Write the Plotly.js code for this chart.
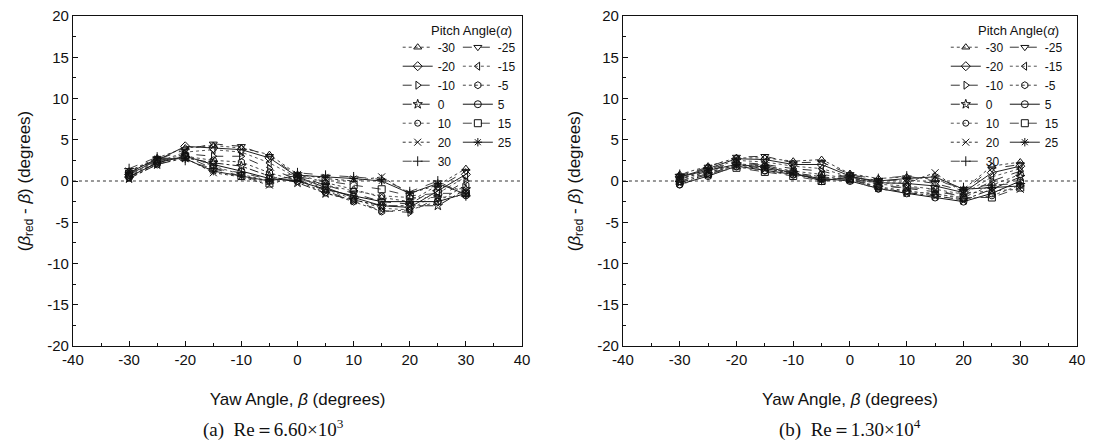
<!DOCTYPE html>
<html>
<head>
<meta charset="utf-8">
<script src="https://cdn.plot.ly/plotly-3.0.1.min.js"></script>
<style>html,body{margin:0;padding:0;background:#fff;}#chart{width:1114px;height:442px;}</style>
</head>
<body>
<div id="chart"></div>
<script>
// Yaw angle beta (degrees)
const yawAngles = [-30, -25, -20, -15, -10, -5, 0, 5, 10, 15, 20, 25, 30];
// Pitch angles alpha (legend labels)
const pitchAngles = [-30, -25, -20, -15, -10, -5, 0, 5, 10, 15, 20, 25, 30];
// Tick labels (hyphen minus, as in the reference)
const xTickVals = [-40, -30, -20, -10, 0, 10, 20, 30, 40];
const xTickText = ['-40', '-30', '-20', '-10', '0', '10', '20', '30', '40'];
const yTickVals = [-20, -15, -10, -5, 0, 5, 10, 15, 20];
const yTickText = ['-20', '-15', '-10', '-5', '0', '5', '10', '15', '20'];

// (a) Re = 6.60e3 : (beta_red - beta) for each pitch angle
const panelA_m30 = [1.2, 2.8, 4.0, 4.3, 4.0, 3.2, 0.8, -0.2, -1.0, -2.0, -2.5, -0.5, 1.5];
const panelA_m25 = [1.0, 2.6, 3.8, 4.5, 4.2, 3.0, 0.6, -0.5, -1.5, -2.5, -2.8, -0.8, 1.2];
const panelA_m20 = [0.8, 2.5, 4.2, 4.0, 3.8, 2.8, 0.5, -0.8, -2.0, -3.0, -3.2, -1.2, 0.8];
const panelA_m15 = [0.6, 2.3, 3.5, 3.8, 3.5, 2.2, 0.4, -1.0, -2.2, -3.3, -3.5, -1.5, 0.5];
const panelA_m10 = [0.5, 2.2, 3.3, 3.0, 3.0, 1.5, 0.2, -1.2, -2.4, -3.6, -3.8, -2.0, 0.0];
const panelA_m5  = [0.4, 2.0, 3.0, 2.5, 2.3, 1.0, 0.0, -1.4, -2.5, -3.7, -3.5, -2.5, -0.5];
const panelA_0   = [0.3, 2.0, 2.8, 2.2, 1.8, 0.6, -0.2, -1.5, -2.3, -3.0, -3.0, -3.0, -1.0];
const panelA_5   = [0.5, 2.2, 3.0, 2.0, 1.2, 0.3, 0.0, -1.0, -1.8, -2.5, -2.5, -2.5, -1.5];
const panelA_10  = [0.7, 2.4, 3.2, 1.8, 0.8, 0.0, 0.3, -0.5, -1.2, -1.8, -2.0, -2.0, -1.8];
const panelA_15  = [0.9, 2.5, 3.0, 1.5, 0.6, -0.3, 0.5, 0.0, -0.5, -1.0, -1.8, -1.5, -1.5];
const panelA_20  = [1.2, 2.6, 2.8, 1.0, 0.5, -0.5, 0.8, 0.3, 0.0, 0.5, -1.5, -0.5, -1.2];
const panelA_25  = [1.0, 2.7, 2.7, 1.2, 0.6, 0.0, 0.7, 0.5, 0.3, 0.0, -1.5, -0.3, -1.6];
const panelA_30  = [1.5, 2.9, 2.5, 1.5, 1.0, 0.2, 1.0, 0.7, 0.5, 0.2, -1.3, 0.0, -1.8];

// (b) Re = 1.30e4
const panelB_m30 = [0.8, 1.8, 2.8, 2.8, 2.4, 2.6, 0.9, 0.3, 0.5, 0.2, -1.0, 1.8, 2.3];
const panelB_m25 = [0.6, 1.7, 2.9, 3.0, 2.2, 2.3, 0.8, 0.0, 0.2, -0.3, -1.2, 1.5, 2.0];
const panelB_m20 = [0.5, 1.5, 2.7, 2.6, 2.0, 2.0, 0.6, -0.2, -0.3, -0.6, -1.4, 1.0, 1.8];
const panelB_m15 = [0.3, 1.4, 2.5, 2.3, 1.8, 1.5, 0.5, -0.4, -0.6, -1.0, -1.6, 0.5, 1.5];
const panelB_m10 = [0.2, 1.2, 2.3, 2.0, 1.5, 1.2, 0.4, -0.5, -0.9, -1.3, -1.8, 0.0, 1.2];
const panelB_m5  = [0.0, 1.0, 2.1, 1.8, 1.2, 0.8, 0.3, -0.7, -1.2, -1.6, -2.0, -0.5, 0.8];
const panelB_0   = [-0.2, 0.8, 2.0, 1.5, 1.0, 0.5, 0.2, -0.8, -1.4, -1.8, -2.3, -1.0, 0.5];
const panelB_5   = [-0.4, 0.6, 1.8, 1.3, 0.8, 0.3, 0.0, -0.9, -1.5, -2.0, -2.5, -1.5, 0.0];
const panelB_10  = [-0.5, 0.7, 1.7, 1.2, 0.7, 0.2, 0.1, -1.0, -1.3, -1.5, -2.2, -1.8, -0.5];
const panelB_15  = [0.0, 0.9, 1.6, 1.1, 0.6, 0.0, 0.2, -0.6, -0.8, -1.0, -2.0, -2.0, -0.8];
const panelB_20  = [0.3, 1.1, 1.8, 1.5, 0.9, 0.1, 0.4, -0.3, -0.2, 1.0, -1.5, -1.2, -1.0];
const panelB_25  = [0.5, 1.3, 2.0, 1.7, 1.0, 0.0, 0.5, 0.0, 0.3, 0.5, -1.0, -0.8, -0.6];
const panelB_30  = [0.8, 1.5, 2.2, 1.9, 1.1, 0.2, 0.7, 0.3, 0.6, 0.0, -0.8, -0.5, -0.3];

const panelA = [panelA_m30, panelA_m25, panelA_m20, panelA_m15, panelA_m10, panelA_m5, panelA_0,
                panelA_5, panelA_10, panelA_15, panelA_20, panelA_25, panelA_30];
const panelB = [panelB_m30, panelB_m25, panelB_m20, panelB_m15, panelB_m10, panelB_m5, panelB_0,
                panelB_5, panelB_10, panelB_15, panelB_20, panelB_25, panelB_30];

const symbols = ['triangle-up-open', 'triangle-down-open', 'diamond-open', 'triangle-left-open',
  'triangle-right-open', 'hexagon-open', 'star-open', 'circle-open', 'circle-open', 'square-open',
  'x-thin-open', 'asterisk-open', 'cross-thin-open'];
const dashes = ['dot', 'dash', 'solid', 'dot', 'dash', 'dot', 'dashdot', 'solid', 'dot', 'dash', 'dot', 'solid', 'dash'];
const lineColors = ['#444', '#333', '#222', '#555', '#333', '#444', '#222', '#111', '#555', '#444', '#333', '#222', '#444'];

const traces = [];
function addPanel(data, xa, ya, legL, legR) {
  data.forEach((vals, i) => {
    traces.push({
      x: yawAngles, y: vals, xaxis: xa, yaxis: ya,
      type: 'scatter', mode: 'lines+markers',
      name: String(pitchAngles[i]),
      legend: (i % 2 === 0) ? legL : legR,
      line: {color: lineColors[i], width: 1, dash: dashes[i]},
      marker: {symbol: symbols[i], size: (i === 8 ? 6 : 7), color: '#111', line: {width: 1, color: '#111'}}
    });
  });
}
addPanel(panelA, 'x', 'y', 'legend', 'legend2');
addPanel(panelB, 'x2', 'y2', 'legend3', 'legend4');

const FONT = 'Liberation Sans, Arial, sans-serif';
function xAxis(domain, anchor) {
  return {
    domain: domain, anchor: anchor, range: [-40, 40],
    tickmode: 'array', tickvals: xTickVals, ticktext: xTickText,
    ticks: 'inside', ticklen: 5, tickwidth: 1, tickcolor: '#111',
    minor: {tickmode: 'linear', tick0: -35, dtick: 10, ticks: 'inside', ticklen: 3, tickcolor: '#111', showgrid: false},
    showline: true, mirror: true, linecolor: '#111', linewidth: 1,
    showgrid: false, zeroline: false,
    tickfont: {family: FONT, size: 15, color: '#111'},
    title: {text: 'Yaw Angle, <i>β</i> (degrees)', font: {family: FONT, size: 17, color: '#111'}, standoff: 26},
    automargin: false
  };
}
function yAxis(domain, anchor) {
  return {
    domain: domain, anchor: anchor, range: [-20, 20],
    tickmode: 'array', tickvals: yTickVals, ticktext: yTickText,
    ticks: 'inside', ticklen: 5, tickwidth: 1, tickcolor: '#111',
    minor: {tickmode: 'linear', tick0: -17.5, dtick: 5, ticks: 'inside', ticklen: 3, tickcolor: '#111', showgrid: false},
    showline: true, mirror: true, linecolor: '#111', linewidth: 1,
    showgrid: false, zeroline: false,
    tickfont: {family: FONT, size: 15, color: '#111'},
    title: {text: '(<i>β</i><sub>red</sub> - <i>β</i>) (degrees)', font: {family: FONT, size: 17, color: '#111'}, standoff: 12},
    automargin: false
  };
}

const yDom = [0.2172, 0.9638];
function legend(x, y) {
  return {x: x, y: y, xanchor: 'left', yanchor: 'top', bgcolor: 'rgba(0,0,0,0)',
    font: {family: FONT, size: 12, color: '#111'}, itemwidth: 30, tracegroupgap: 0, borderwidth: 0};
}

const capFont = {family: 'Liberation Serif, Times New Roman, serif', size: 19, color: '#111'};
const titleFont = {family: FONT, size: 13, color: '#111'};

const layout = {
  width: 1114, height: 442,
  margin: {l: 0, r: 0, t: 0, b: 0},
  paper_bgcolor: '#fff', plot_bgcolor: '#fff',
  showlegend: true,
  xaxis: xAxis([0.0655, 0.4686], 'y'),
  yaxis: yAxis(yDom, 'x'),
  xaxis2: xAxis([0.5592, 0.9668], 'y2'),
  yaxis2: yAxis(yDom, 'x2'),
  legend: legend(0.357, 0.926),
  legend2: legend(0.411, 0.926),
  legend3: legend(0.849, 0.926),
  legend4: legend(0.902, 0.926),
  shapes: [
    {type: 'line', xref: 'x', yref: 'y', x0: -40, x1: 40, y0: 0, y1: 0, line: {color: '#333', width: 1, dash: 'dot'}, layer: 'below'},
    {type: 'line', xref: 'x2', yref: 'y2', x0: -40, x1: 40, y0: 0, y1: 0, line: {color: '#333', width: 1, dash: 'dot'}, layer: 'below'}
  ],
  annotations: [
    {text: 'Pitch Angle(<i>α</i>)', xref: 'paper', yref: 'paper', x: 0.423, y: 1 - 31/442,
     xanchor: 'center', yanchor: 'middle', showarrow: false, font: titleFont},
    {text: 'Pitch Angle(<i>α</i>)', xref: 'paper', yref: 'paper', x: 0.914, y: 1 - 31/442,
     xanchor: 'center', yanchor: 'middle', showarrow: false, font: titleFont},
    {text: '(a)  Re＝6.60×10<sup>3</sup>', xref: 'paper', yref: 'paper', x: 273/1114, y: 1 - 428/442,
     xanchor: 'center', yanchor: 'middle', showarrow: false, font: capFont},
    {text: '(b)  Re＝1.30×10<sup>4</sup>', xref: 'paper', yref: 'paper', x: 850/1114, y: 1 - 428/442,
     xanchor: 'center', yanchor: 'middle', showarrow: false, font: capFont}
  ]
};

Plotly.newPlot('chart', traces, layout, {displayModeBar: false, staticPlot: true});
</script>
</body>
</html>
